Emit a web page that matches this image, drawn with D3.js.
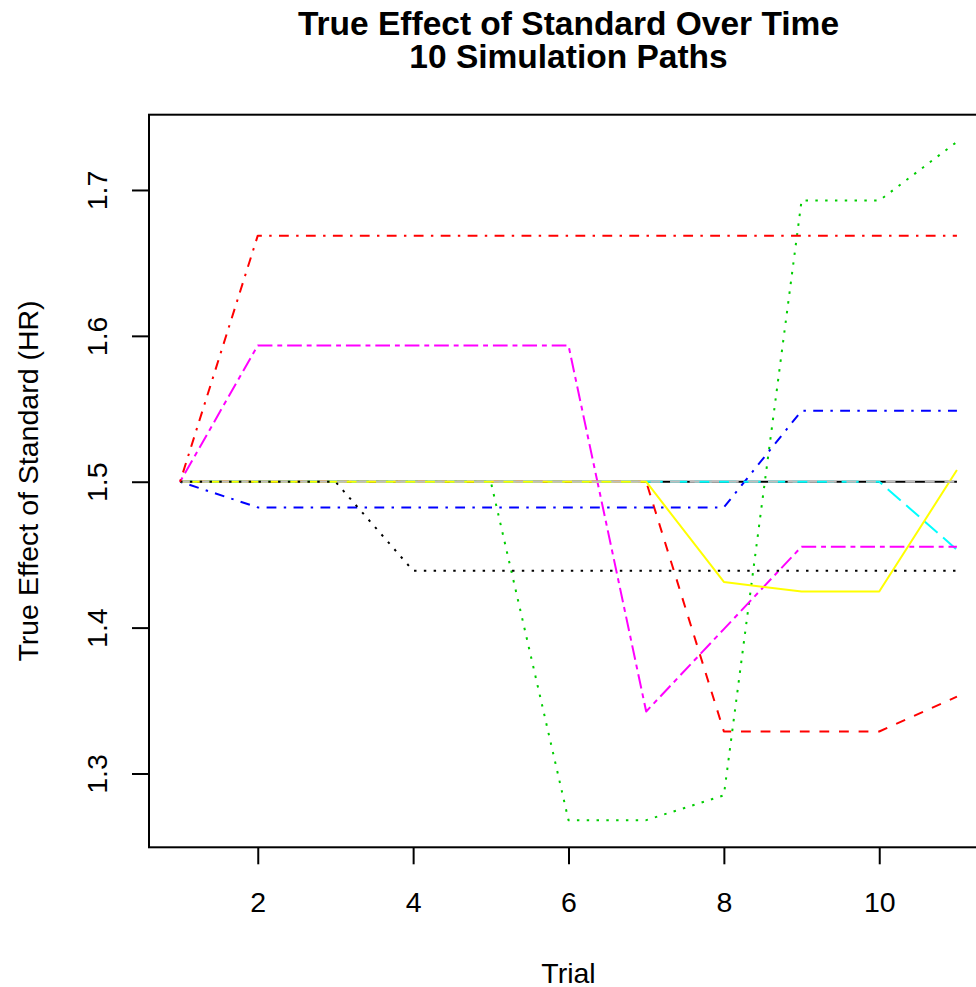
<!DOCTYPE html>
<html><head><meta charset="utf-8">
<script src="https://cdn.jsdelivr.net/npm/d3@7"></script>
<style>
html,body{margin:0;padding:0;background:#fff;overflow:hidden;}
text{font-family:"Liberation Sans",Arial,Helvetica,sans-serif;}
</style></head>
<body>
<svg id="chart" width="976" height="987"></svg>
<script>
const trials = [1,2,3,4,5,6,7,8,9,10,11];
const xTicks = [2,4,6,8,10];
const yTicks = [1.3,1.4,1.5,1.6,1.7];
const seriesNames = ["Path 1","Path 2","Path 3","Path 4","Path 5","Path 6","Path 7","Path 8","Path 9","Path 10"];
const path1  = [1.5,1.5,1.5,1.5,1.5,1.5,1.5,1.5,1.5,1.5,1.5];
const path2  = [1.5,1.5,1.5,1.5,1.5,1.5,1.5,1.3288,1.3288,1.3288,1.3527];
const path3  = [1.5,1.5,1.5,1.5,1.5,1.268,1.268,1.285,1.6927,1.6927,1.733];
const path4  = [1.5,1.4824,1.4824,1.4824,1.4824,1.4824,1.4824,1.4824,1.5486,1.5486,1.5486];
const path5  = [1.5,1.5,1.5,1.5,1.5,1.5,1.5,1.5,1.5,1.5,1.4534];
const path6  = [1.5,1.5934,1.5934,1.5934,1.5934,1.5934,1.3425,1.399,1.4555,1.4555,1.4555];
const path7  = [1.5,1.5,1.5,1.5,1.5,1.5,1.5,1.4313,1.4247,1.4247,1.508];
const path8  = [1.5,1.5,1.5,1.5,1.5,1.5,1.5,1.5,1.5,1.5,1.5];
const path9  = [1.5,1.5,1.5,1.439,1.439,1.439,1.439,1.439,1.439,1.439,1.439];
const path10 = [1.5,1.6687,1.6687,1.6687,1.6687,1.6687,1.6687,1.6687,1.6687,1.6687,1.6687];
const allPaths = [path1,path2,path3,path4,path5,path6,path7,path8,path9,path10];
const colors = ["#000000","#FF0000","#00CD00","#0000FF","#00FFFF","#FF00FF","#FFFF00","#BEBEBE","#000000","#FF0000"];
const u = 2.45;
const dashes = [null, [4,4], [1,3], [1,3,4,3], [7,3], [2,2,6,2], null, [4,4], [1,3], [1,3,4,3]];

const svg = d3.select("#chart");
const xmin = d3.min(trials), xmax = d3.max(trials);
const ymin = d3.min(allPaths.flat()), ymax = d3.max(allPaths.flat());
const xe = (xmax-xmin)*0.04, ye = (ymax-ymin)*0.04;
const x = d3.scaleLinear().domain([xmin-xe, xmax+xe]).range([149, 988]);
const y = d3.scaleLinear().domain([ymin-ye, ymax+ye]).range([847.3, 114.7]);
const [L,R] = x.range(), [B,T] = y.range();

svg.append("clipPath").attr("id","clip").append("rect")
  .attr("x",L).attr("y",T).attr("width",R-L).attr("height",B-T);

const line = d3.line().x((d,i)=>x(trials[i])).y(d=>y(d));
const g = svg.append("g").attr("clip-path","url(#clip)");
allPaths.forEach((p,k)=>{
  g.append("path").datum(p).attr("d",line)
    .attr("fill","none").attr("stroke",colors[k]).attr("stroke-width",2)
    .attr("stroke-linejoin","round")
    .attr("stroke-dasharray", dashes[k] ? dashes[k].map(v=>v*u).join(",") : null);
});

// box
svg.append("rect").attr("x",L).attr("y",T).attr("width",R-L).attr("height",B-T)
  .attr("fill","none").attr("stroke","#000").attr("stroke-width",2);

// x axis
const gx = svg.append("g").attr("transform",`translate(0,${B})`)
  .call(d3.axisBottom(x).tickValues(xTicks).tickSize(17).tickSizeOuter(0).tickFormat(d3.format("d")));
gx.select(".domain").remove();
gx.selectAll(".tick line").attr("stroke","#000").attr("stroke-width",2);
gx.selectAll(".tick text").attr("dy",null).attr("y",65).attr("font-size","28.5px")
  .attr("fill","#000").style("font-family","'Liberation Sans',Arial,sans-serif");

// y axis
const gy = svg.append("g").attr("transform",`translate(${L},0)`)
  .call(d3.axisLeft(y).tickValues(yTicks).tickSize(17).tickSizeOuter(0).tickFormat(d3.format(".1f")));
gy.select(".domain").remove();
gy.selectAll(".tick line").attr("stroke","#000").attr("stroke-width",2);
gy.selectAll(".tick text").attr("x",null).attr("dy",null).attr("text-anchor","middle")
  .attr("transform","translate(-42,0) rotate(-90)").attr("font-size","28.5px")
  .attr("fill","#000").style("font-family","'Liberation Sans',Arial,sans-serif");

// labels
const cx = (L+R)/2, cy = (T+B)/2;
svg.append("text").attr("x",cx).attr("y",983).attr("text-anchor","middle")
  .attr("font-size","28.5px").text("Trial");
svg.append("text").attr("transform",`translate(38,${cy}) rotate(-90)`).attr("text-anchor","middle")
  .attr("font-size","28.5px").text("True Effect of Standard (HR)");
const title = svg.append("text").attr("text-anchor","middle").attr("font-size","33.5px").attr("font-weight","bold");
title.append("tspan").attr("x",cx).attr("y",35).text("True Effect of Standard Over Time");
title.append("tspan").attr("x",cx).attr("y",68).text("10 Simulation Paths");
</script>
</body></html>
